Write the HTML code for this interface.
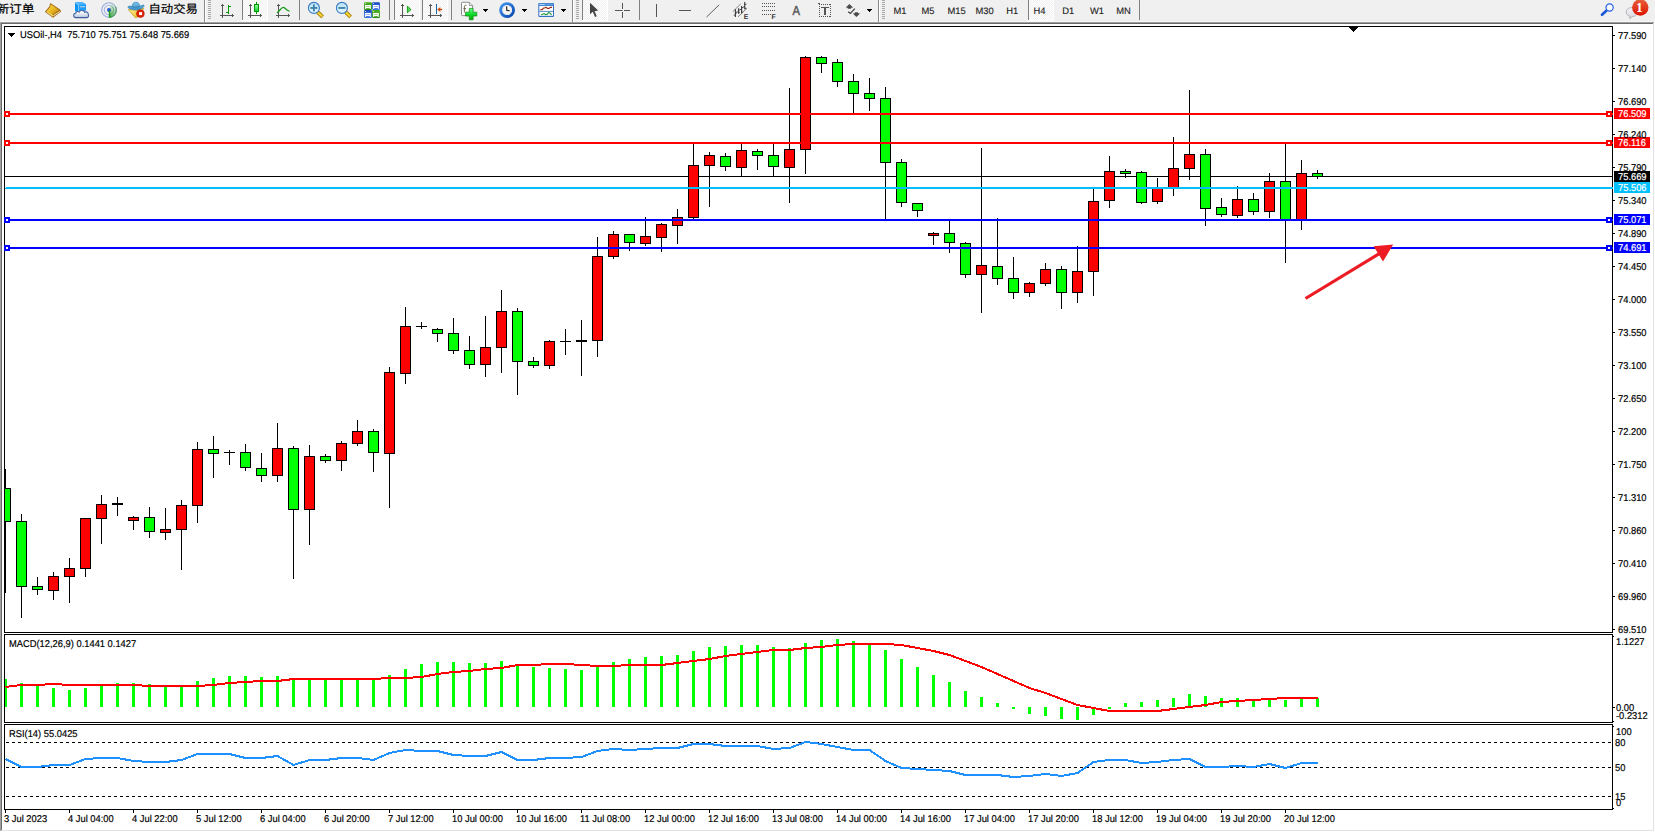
<!DOCTYPE html>
<html><head><meta charset="utf-8"><title>USOil-,H4</title>
<style>
html,body{margin:0;padding:0;background:#f0f0f0;overflow:hidden}
body{width:1655px;height:832px;position:relative;font-family:"Liberation Sans","Noto Sans CJK SC",sans-serif}
svg{position:absolute;left:0;top:0;display:block}
svg text{font-family:"Liberation Sans","Noto Sans CJK SC",sans-serif;white-space:pre}
</style></head><body>
<svg width="1655" height="832" viewBox="0 0 1655 832" shape-rendering="crispEdges">
<rect x="0" y="0" width="1655" height="832" fill="#f0f0f0"/>
<rect x="0" y="21" width="1654" height="1" fill="#f6f6f6"/>
<rect x="1654" y="21" width="1" height="811" fill="#ffffff"/>
<rect x="0" y="831" width="1655" height="1" fill="#ffffff"/>
<rect x="0" y="22" width="1654" height="1" fill="#a0a0a0"/>
<rect x="1" y="23" width="1652" height="1" fill="#696969"/>
<rect x="0" y="23" width="1" height="808" fill="#a0a0a0"/>
<rect x="1" y="24" width="1" height="806" fill="#696969"/>
<rect x="2" y="24" width="1651" height="806" fill="#ffffff"/>
<rect x="1653" y="23" width="1" height="808" fill="#e3e3e3"/>
<rect x="1" y="830" width="1653" height="1" fill="#e3e3e3"/>
<rect x="4" y="26" width="1609" height="1" fill="#000"/>
<rect x="4" y="632" width="1609" height="1" fill="#000"/>
<rect x="4" y="26" width="1" height="607" fill="#000"/>
<rect x="1612" y="26" width="1" height="607" fill="#000"/>
<rect x="4" y="634" width="1609" height="1" fill="#000"/>
<rect x="4" y="722" width="1609" height="1" fill="#000"/>
<rect x="4" y="634" width="1" height="89" fill="#000"/>
<rect x="1612" y="634" width="1" height="89" fill="#000"/>
<rect x="4" y="724" width="1609" height="1" fill="#000"/>
<rect x="4" y="809" width="1609" height="1" fill="#000"/>
<rect x="4" y="724" width="1" height="86" fill="#000"/>
<rect x="1612" y="724" width="1" height="86" fill="#000"/>
<rect x="1349" y="27" width="9" height="1" fill="#000"/>
<rect x="1350" y="28" width="7" height="1" fill="#000"/>
<rect x="1351" y="29" width="5" height="1" fill="#000"/>
<rect x="1352" y="30" width="3" height="1" fill="#000"/>
<rect x="1353" y="31" width="1" height="1" fill="#000"/>
<rect x="8" y="33" width="7" height="1" fill="#000"/>
<rect x="9" y="34" width="5" height="1" fill="#000"/>
<rect x="10" y="35" width="3" height="1" fill="#000"/>
<rect x="11" y="36" width="1" height="1" fill="#000"/>
<rect x="5" y="176" width="1607" height="1" fill="#000"/>
<rect x="5" y="469" width="1" height="124" fill="#000"/>
<rect x="5" y="488" width="6" height="34" fill="#000"/>
<rect x="5" y="489" width="5" height="32" fill="#00ff00"/>
<rect x="21" y="514" width="1" height="104" fill="#000"/>
<rect x="16" y="521" width="11" height="66" fill="#000"/>
<rect x="17" y="522" width="9" height="64" fill="#00ff00"/>
<rect x="37" y="577" width="1" height="18" fill="#000"/>
<rect x="32" y="586" width="11" height="4" fill="#000"/>
<rect x="33" y="587" width="9" height="2" fill="#00ff00"/>
<rect x="53" y="572" width="1" height="28" fill="#000"/>
<rect x="48" y="576" width="11" height="15" fill="#000"/>
<rect x="49" y="577" width="9" height="13" fill="#ff0000"/>
<rect x="69" y="558" width="1" height="45" fill="#000"/>
<rect x="64" y="568" width="11" height="9" fill="#000"/>
<rect x="65" y="569" width="9" height="7" fill="#ff0000"/>
<rect x="85" y="518" width="1" height="59" fill="#000"/>
<rect x="80" y="518" width="11" height="51" fill="#000"/>
<rect x="81" y="519" width="9" height="49" fill="#ff0000"/>
<rect x="101" y="495" width="1" height="49" fill="#000"/>
<rect x="96" y="504" width="11" height="15" fill="#000"/>
<rect x="97" y="505" width="9" height="13" fill="#ff0000"/>
<rect x="117" y="497" width="1" height="19" fill="#000"/>
<rect x="112" y="503" width="11" height="2" fill="#000"/>
<rect x="133" y="516" width="1" height="14" fill="#000"/>
<rect x="128" y="517" width="11" height="4" fill="#000"/>
<rect x="129" y="518" width="9" height="2" fill="#ff0000"/>
<rect x="149" y="507" width="1" height="31" fill="#000"/>
<rect x="144" y="517" width="11" height="15" fill="#000"/>
<rect x="145" y="518" width="9" height="13" fill="#00ff00"/>
<rect x="165" y="508" width="1" height="32" fill="#000"/>
<rect x="160" y="529" width="11" height="4" fill="#000"/>
<rect x="161" y="530" width="9" height="2" fill="#ff0000"/>
<rect x="181" y="500" width="1" height="70" fill="#000"/>
<rect x="176" y="505" width="11" height="25" fill="#000"/>
<rect x="177" y="506" width="9" height="23" fill="#ff0000"/>
<rect x="197" y="442" width="1" height="81" fill="#000"/>
<rect x="192" y="449" width="11" height="57" fill="#000"/>
<rect x="193" y="450" width="9" height="55" fill="#ff0000"/>
<rect x="213" y="436" width="1" height="42" fill="#000"/>
<rect x="208" y="449" width="11" height="5" fill="#000"/>
<rect x="209" y="450" width="9" height="3" fill="#00ff00"/>
<rect x="229" y="450" width="1" height="15" fill="#000"/>
<rect x="224" y="452" width="11" height="1" fill="#000"/>
<rect x="245" y="444" width="1" height="27" fill="#000"/>
<rect x="240" y="452" width="11" height="16" fill="#000"/>
<rect x="241" y="453" width="9" height="14" fill="#00ff00"/>
<rect x="261" y="453" width="1" height="29" fill="#000"/>
<rect x="256" y="468" width="11" height="8" fill="#000"/>
<rect x="257" y="469" width="9" height="6" fill="#00ff00"/>
<rect x="277" y="423" width="1" height="59" fill="#000"/>
<rect x="272" y="448" width="11" height="28" fill="#000"/>
<rect x="273" y="449" width="9" height="26" fill="#ff0000"/>
<rect x="293" y="446" width="1" height="133" fill="#000"/>
<rect x="288" y="448" width="11" height="62" fill="#000"/>
<rect x="289" y="449" width="9" height="60" fill="#00ff00"/>
<rect x="309" y="445" width="1" height="100" fill="#000"/>
<rect x="304" y="456" width="11" height="54" fill="#000"/>
<rect x="305" y="457" width="9" height="52" fill="#ff0000"/>
<rect x="325" y="454" width="1" height="9" fill="#000"/>
<rect x="320" y="456" width="11" height="5" fill="#000"/>
<rect x="321" y="457" width="9" height="3" fill="#00ff00"/>
<rect x="341" y="441" width="1" height="30" fill="#000"/>
<rect x="336" y="443" width="11" height="18" fill="#000"/>
<rect x="337" y="444" width="9" height="16" fill="#ff0000"/>
<rect x="357" y="420" width="1" height="26" fill="#000"/>
<rect x="352" y="431" width="11" height="13" fill="#000"/>
<rect x="353" y="432" width="9" height="11" fill="#ff0000"/>
<rect x="373" y="429" width="1" height="43" fill="#000"/>
<rect x="368" y="431" width="11" height="22" fill="#000"/>
<rect x="369" y="432" width="9" height="20" fill="#00ff00"/>
<rect x="389" y="367" width="1" height="141" fill="#000"/>
<rect x="384" y="372" width="11" height="82" fill="#000"/>
<rect x="385" y="373" width="9" height="80" fill="#ff0000"/>
<rect x="405" y="307" width="1" height="77" fill="#000"/>
<rect x="400" y="326" width="11" height="48" fill="#000"/>
<rect x="401" y="327" width="9" height="46" fill="#ff0000"/>
<rect x="421" y="322" width="1" height="7" fill="#000"/>
<rect x="416" y="326" width="11" height="1" fill="#000"/>
<rect x="437" y="328" width="1" height="14" fill="#000"/>
<rect x="432" y="329" width="11" height="5" fill="#000"/>
<rect x="433" y="330" width="9" height="3" fill="#00ff00"/>
<rect x="453" y="318" width="1" height="36" fill="#000"/>
<rect x="448" y="333" width="11" height="18" fill="#000"/>
<rect x="449" y="334" width="9" height="16" fill="#00ff00"/>
<rect x="469" y="336" width="1" height="33" fill="#000"/>
<rect x="464" y="350" width="11" height="15" fill="#000"/>
<rect x="465" y="351" width="9" height="13" fill="#00ff00"/>
<rect x="485" y="316" width="1" height="61" fill="#000"/>
<rect x="480" y="347" width="11" height="18" fill="#000"/>
<rect x="481" y="348" width="9" height="16" fill="#ff0000"/>
<rect x="501" y="290" width="1" height="83" fill="#000"/>
<rect x="496" y="311" width="11" height="37" fill="#000"/>
<rect x="497" y="312" width="9" height="35" fill="#ff0000"/>
<rect x="517" y="308" width="1" height="87" fill="#000"/>
<rect x="512" y="311" width="11" height="51" fill="#000"/>
<rect x="513" y="312" width="9" height="49" fill="#00ff00"/>
<rect x="533" y="357" width="1" height="11" fill="#000"/>
<rect x="528" y="361" width="11" height="5" fill="#000"/>
<rect x="529" y="362" width="9" height="3" fill="#00ff00"/>
<rect x="549" y="340" width="1" height="29" fill="#000"/>
<rect x="544" y="341" width="11" height="25" fill="#000"/>
<rect x="545" y="342" width="9" height="23" fill="#ff0000"/>
<rect x="565" y="329" width="1" height="26" fill="#000"/>
<rect x="560" y="341" width="11" height="1" fill="#000"/>
<rect x="581" y="320" width="1" height="56" fill="#000"/>
<rect x="576" y="340" width="11" height="2" fill="#000"/>
<rect x="597" y="237" width="1" height="120" fill="#000"/>
<rect x="592" y="256" width="11" height="85" fill="#000"/>
<rect x="593" y="257" width="9" height="83" fill="#ff0000"/>
<rect x="613" y="231" width="1" height="28" fill="#000"/>
<rect x="608" y="234" width="11" height="23" fill="#000"/>
<rect x="609" y="235" width="9" height="21" fill="#ff0000"/>
<rect x="629" y="234" width="1" height="17" fill="#000"/>
<rect x="624" y="234" width="11" height="9" fill="#000"/>
<rect x="625" y="235" width="9" height="7" fill="#00ff00"/>
<rect x="645" y="217" width="1" height="29" fill="#000"/>
<rect x="640" y="236" width="11" height="8" fill="#000"/>
<rect x="641" y="237" width="9" height="6" fill="#ff0000"/>
<rect x="661" y="223" width="1" height="29" fill="#000"/>
<rect x="656" y="224" width="11" height="14" fill="#000"/>
<rect x="657" y="225" width="9" height="12" fill="#ff0000"/>
<rect x="677" y="209" width="1" height="35" fill="#000"/>
<rect x="672" y="217" width="11" height="9" fill="#000"/>
<rect x="673" y="218" width="9" height="7" fill="#ff0000"/>
<rect x="693" y="144" width="1" height="75" fill="#000"/>
<rect x="688" y="165" width="11" height="53" fill="#000"/>
<rect x="689" y="166" width="9" height="51" fill="#ff0000"/>
<rect x="709" y="152" width="1" height="55" fill="#000"/>
<rect x="704" y="155" width="11" height="11" fill="#000"/>
<rect x="705" y="156" width="9" height="9" fill="#ff0000"/>
<rect x="725" y="153" width="1" height="18" fill="#000"/>
<rect x="720" y="156" width="11" height="11" fill="#000"/>
<rect x="721" y="157" width="9" height="9" fill="#00ff00"/>
<rect x="741" y="144" width="1" height="32" fill="#000"/>
<rect x="736" y="150" width="11" height="18" fill="#000"/>
<rect x="737" y="151" width="9" height="16" fill="#ff0000"/>
<rect x="757" y="149" width="1" height="21" fill="#000"/>
<rect x="752" y="151" width="11" height="5" fill="#000"/>
<rect x="753" y="152" width="9" height="3" fill="#00ff00"/>
<rect x="773" y="144" width="1" height="32" fill="#000"/>
<rect x="768" y="155" width="11" height="12" fill="#000"/>
<rect x="769" y="156" width="9" height="10" fill="#00ff00"/>
<rect x="789" y="88" width="1" height="115" fill="#000"/>
<rect x="784" y="149" width="11" height="19" fill="#000"/>
<rect x="785" y="150" width="9" height="17" fill="#ff0000"/>
<rect x="805" y="56" width="1" height="118" fill="#000"/>
<rect x="800" y="57" width="11" height="93" fill="#000"/>
<rect x="801" y="58" width="9" height="91" fill="#ff0000"/>
<rect x="821" y="56" width="1" height="17" fill="#000"/>
<rect x="816" y="57" width="11" height="7" fill="#000"/>
<rect x="817" y="58" width="9" height="5" fill="#00ff00"/>
<rect x="837" y="59" width="1" height="28" fill="#000"/>
<rect x="832" y="62" width="11" height="20" fill="#000"/>
<rect x="833" y="63" width="9" height="18" fill="#00ff00"/>
<rect x="853" y="74" width="1" height="39" fill="#000"/>
<rect x="848" y="81" width="11" height="13" fill="#000"/>
<rect x="849" y="82" width="9" height="11" fill="#00ff00"/>
<rect x="869" y="78" width="1" height="33" fill="#000"/>
<rect x="864" y="93" width="11" height="6" fill="#000"/>
<rect x="865" y="94" width="9" height="4" fill="#00ff00"/>
<rect x="885" y="87" width="1" height="132" fill="#000"/>
<rect x="880" y="98" width="11" height="65" fill="#000"/>
<rect x="881" y="99" width="9" height="63" fill="#00ff00"/>
<rect x="901" y="159" width="1" height="48" fill="#000"/>
<rect x="896" y="162" width="11" height="41" fill="#000"/>
<rect x="897" y="163" width="9" height="39" fill="#00ff00"/>
<rect x="917" y="203" width="1" height="14" fill="#000"/>
<rect x="912" y="203" width="11" height="8" fill="#000"/>
<rect x="913" y="204" width="9" height="6" fill="#00ff00"/>
<rect x="933" y="232" width="1" height="13" fill="#000"/>
<rect x="928" y="233" width="11" height="3" fill="#000"/>
<rect x="929" y="234" width="9" height="1" fill="#ff0000"/>
<rect x="949" y="221" width="1" height="32" fill="#000"/>
<rect x="944" y="233" width="11" height="10" fill="#000"/>
<rect x="945" y="234" width="9" height="8" fill="#00ff00"/>
<rect x="965" y="242" width="1" height="36" fill="#000"/>
<rect x="960" y="243" width="11" height="32" fill="#000"/>
<rect x="961" y="244" width="9" height="30" fill="#00ff00"/>
<rect x="981" y="148" width="1" height="165" fill="#000"/>
<rect x="976" y="265" width="11" height="10" fill="#000"/>
<rect x="977" y="266" width="9" height="8" fill="#ff0000"/>
<rect x="997" y="218" width="1" height="67" fill="#000"/>
<rect x="992" y="266" width="11" height="13" fill="#000"/>
<rect x="993" y="267" width="9" height="11" fill="#00ff00"/>
<rect x="1013" y="257" width="1" height="42" fill="#000"/>
<rect x="1008" y="278" width="11" height="15" fill="#000"/>
<rect x="1009" y="279" width="9" height="13" fill="#00ff00"/>
<rect x="1029" y="282" width="1" height="15" fill="#000"/>
<rect x="1024" y="283" width="11" height="10" fill="#000"/>
<rect x="1025" y="284" width="9" height="8" fill="#ff0000"/>
<rect x="1045" y="263" width="1" height="23" fill="#000"/>
<rect x="1040" y="269" width="11" height="15" fill="#000"/>
<rect x="1041" y="270" width="9" height="13" fill="#ff0000"/>
<rect x="1061" y="266" width="1" height="43" fill="#000"/>
<rect x="1056" y="269" width="11" height="24" fill="#000"/>
<rect x="1057" y="270" width="9" height="22" fill="#00ff00"/>
<rect x="1077" y="246" width="1" height="57" fill="#000"/>
<rect x="1072" y="271" width="11" height="22" fill="#000"/>
<rect x="1073" y="272" width="9" height="20" fill="#ff0000"/>
<rect x="1093" y="189" width="1" height="107" fill="#000"/>
<rect x="1088" y="201" width="11" height="71" fill="#000"/>
<rect x="1089" y="202" width="9" height="69" fill="#ff0000"/>
<rect x="1109" y="156" width="1" height="52" fill="#000"/>
<rect x="1104" y="171" width="11" height="30" fill="#000"/>
<rect x="1105" y="172" width="9" height="28" fill="#ff0000"/>
<rect x="1125" y="169" width="1" height="9" fill="#000"/>
<rect x="1120" y="171" width="11" height="3" fill="#000"/>
<rect x="1121" y="172" width="9" height="1" fill="#00ff00"/>
<rect x="1141" y="171" width="1" height="33" fill="#000"/>
<rect x="1136" y="172" width="11" height="31" fill="#000"/>
<rect x="1137" y="173" width="9" height="29" fill="#00ff00"/>
<rect x="1157" y="178" width="1" height="26" fill="#000"/>
<rect x="1152" y="188" width="11" height="14" fill="#000"/>
<rect x="1153" y="189" width="9" height="12" fill="#ff0000"/>
<rect x="1173" y="137" width="1" height="59" fill="#000"/>
<rect x="1168" y="168" width="11" height="20" fill="#000"/>
<rect x="1169" y="169" width="9" height="18" fill="#ff0000"/>
<rect x="1189" y="90" width="1" height="90" fill="#000"/>
<rect x="1184" y="154" width="11" height="15" fill="#000"/>
<rect x="1185" y="155" width="9" height="13" fill="#ff0000"/>
<rect x="1205" y="149" width="1" height="77" fill="#000"/>
<rect x="1200" y="154" width="11" height="55" fill="#000"/>
<rect x="1201" y="155" width="9" height="53" fill="#00ff00"/>
<rect x="1221" y="198" width="1" height="19" fill="#000"/>
<rect x="1216" y="207" width="11" height="8" fill="#000"/>
<rect x="1217" y="208" width="9" height="6" fill="#00ff00"/>
<rect x="1237" y="186" width="1" height="32" fill="#000"/>
<rect x="1232" y="199" width="11" height="17" fill="#000"/>
<rect x="1233" y="200" width="9" height="15" fill="#ff0000"/>
<rect x="1253" y="193" width="1" height="22" fill="#000"/>
<rect x="1248" y="199" width="11" height="13" fill="#000"/>
<rect x="1249" y="200" width="9" height="11" fill="#00ff00"/>
<rect x="1269" y="173" width="1" height="45" fill="#000"/>
<rect x="1264" y="181" width="11" height="31" fill="#000"/>
<rect x="1265" y="182" width="9" height="29" fill="#ff0000"/>
<rect x="1285" y="144" width="1" height="119" fill="#000"/>
<rect x="1280" y="181" width="11" height="39" fill="#000"/>
<rect x="1281" y="182" width="9" height="37" fill="#00ff00"/>
<rect x="1301" y="160" width="1" height="70" fill="#000"/>
<rect x="1296" y="173" width="11" height="47" fill="#000"/>
<rect x="1297" y="174" width="9" height="45" fill="#ff0000"/>
<rect x="1317" y="170" width="1" height="9" fill="#000"/>
<rect x="1312" y="173" width="11" height="4" fill="#000"/>
<rect x="1313" y="174" width="9" height="2" fill="#00ff00"/>
<rect x="4" y="113" width="1609" height="2" fill="#ff0000"/>
<rect x="4" y="111" width="6" height="6" fill="#ff0000"/>
<rect x="6" y="113" width="2" height="2" fill="#fff"/>
<rect x="1606" y="111" width="6" height="6" fill="#ff0000"/>
<rect x="1608" y="113" width="2" height="2" fill="#fff"/>
<rect x="4" y="142" width="1609" height="2" fill="#ff0000"/>
<rect x="4" y="140" width="6" height="6" fill="#ff0000"/>
<rect x="6" y="142" width="2" height="2" fill="#fff"/>
<rect x="1606" y="140" width="6" height="6" fill="#ff0000"/>
<rect x="1608" y="142" width="2" height="2" fill="#fff"/>
<rect x="6" y="187" width="1607" height="1" fill="#00bfff"/>
<rect x="5" y="188" width="1608" height="1" fill="#00bfff"/>
<rect x="4" y="219" width="1609" height="2" fill="#0000ff"/>
<rect x="4" y="217" width="6" height="6" fill="#0000ff"/>
<rect x="6" y="219" width="2" height="2" fill="#fff"/>
<rect x="1606" y="217" width="6" height="6" fill="#0000ff"/>
<rect x="1608" y="219" width="2" height="2" fill="#fff"/>
<rect x="4" y="247" width="1609" height="2" fill="#0000ff"/>
<rect x="4" y="245" width="6" height="6" fill="#0000ff"/>
<rect x="6" y="247" width="2" height="2" fill="#fff"/>
<rect x="1606" y="245" width="6" height="6" fill="#0000ff"/>
<rect x="1608" y="247" width="2" height="2" fill="#fff"/>
<g shape-rendering="geometricPrecision"><line x1="1305.5" y1="298.5" x2="1381" y2="252.6" stroke="#ed1c24" stroke-width="3.2"/><polygon points="1393.2,244.6 1373.6,246.3 1383,261.4" fill="#ed1c24"/></g>
<rect x="1614" y="108" width="36" height="11" fill="#ff0000"/>
<rect x="1614" y="137" width="36" height="11" fill="#ff0000"/>
<rect x="1614" y="171" width="36" height="11" fill="#000"/>
<rect x="1614" y="182" width="36" height="11" fill="#00bfff"/>
<rect x="1614" y="214" width="36" height="11" fill="#0000ff"/>
<rect x="1614" y="242" width="36" height="11" fill="#0000ff"/>
<rect x="1613" y="35" width="2" height="1" fill="#000"/>
<rect x="1613" y="68" width="2" height="1" fill="#000"/>
<rect x="1613" y="101" width="2" height="1" fill="#000"/>
<rect x="1613" y="134" width="2" height="1" fill="#000"/>
<rect x="1613" y="167" width="2" height="1" fill="#000"/>
<rect x="1613" y="200" width="2" height="1" fill="#000"/>
<rect x="1613" y="233" width="2" height="1" fill="#000"/>
<rect x="1613" y="266" width="2" height="1" fill="#000"/>
<rect x="1613" y="299" width="2" height="1" fill="#000"/>
<rect x="1613" y="332" width="2" height="1" fill="#000"/>
<rect x="1613" y="365" width="2" height="1" fill="#000"/>
<rect x="1613" y="398" width="2" height="1" fill="#000"/>
<rect x="1613" y="431" width="2" height="1" fill="#000"/>
<rect x="1613" y="464" width="2" height="1" fill="#000"/>
<rect x="1613" y="497" width="2" height="1" fill="#000"/>
<rect x="1613" y="530" width="2" height="1" fill="#000"/>
<rect x="1613" y="563" width="2" height="1" fill="#000"/>
<rect x="1613" y="596" width="2" height="1" fill="#000"/>
<rect x="1613" y="629" width="2" height="1" fill="#000"/>
<rect x="5" y="679" width="2" height="28" fill="#00ff00"/>
<rect x="20" y="683" width="3" height="24" fill="#00ff00"/>
<rect x="36" y="686" width="3" height="21" fill="#00ff00"/>
<rect x="52" y="688" width="3" height="19" fill="#00ff00"/>
<rect x="68" y="690" width="3" height="17" fill="#00ff00"/>
<rect x="84" y="688" width="3" height="19" fill="#00ff00"/>
<rect x="100" y="685" width="3" height="22" fill="#00ff00"/>
<rect x="116" y="683" width="3" height="24" fill="#00ff00"/>
<rect x="132" y="683" width="3" height="24" fill="#00ff00"/>
<rect x="148" y="684" width="3" height="23" fill="#00ff00"/>
<rect x="164" y="686" width="3" height="21" fill="#00ff00"/>
<rect x="180" y="686" width="3" height="21" fill="#00ff00"/>
<rect x="196" y="681" width="3" height="26" fill="#00ff00"/>
<rect x="212" y="678" width="3" height="29" fill="#00ff00"/>
<rect x="228" y="676" width="3" height="31" fill="#00ff00"/>
<rect x="244" y="676" width="3" height="31" fill="#00ff00"/>
<rect x="260" y="677" width="3" height="30" fill="#00ff00"/>
<rect x="276" y="676" width="3" height="31" fill="#00ff00"/>
<rect x="292" y="680" width="3" height="27" fill="#00ff00"/>
<rect x="308" y="680" width="3" height="27" fill="#00ff00"/>
<rect x="324" y="680" width="3" height="27" fill="#00ff00"/>
<rect x="340" y="680" width="3" height="27" fill="#00ff00"/>
<rect x="356" y="679" width="3" height="28" fill="#00ff00"/>
<rect x="372" y="679" width="3" height="28" fill="#00ff00"/>
<rect x="388" y="675" width="3" height="32" fill="#00ff00"/>
<rect x="404" y="669" width="3" height="38" fill="#00ff00"/>
<rect x="420" y="664" width="3" height="43" fill="#00ff00"/>
<rect x="436" y="662" width="3" height="45" fill="#00ff00"/>
<rect x="452" y="662" width="3" height="45" fill="#00ff00"/>
<rect x="468" y="663" width="3" height="44" fill="#00ff00"/>
<rect x="484" y="663" width="3" height="44" fill="#00ff00"/>
<rect x="500" y="661" width="3" height="46" fill="#00ff00"/>
<rect x="516" y="665" width="3" height="42" fill="#00ff00"/>
<rect x="532" y="667" width="3" height="40" fill="#00ff00"/>
<rect x="548" y="668" width="3" height="39" fill="#00ff00"/>
<rect x="564" y="669" width="3" height="38" fill="#00ff00"/>
<rect x="580" y="670" width="3" height="37" fill="#00ff00"/>
<rect x="596" y="666" width="3" height="41" fill="#00ff00"/>
<rect x="612" y="662" width="3" height="45" fill="#00ff00"/>
<rect x="628" y="659" width="3" height="48" fill="#00ff00"/>
<rect x="644" y="657" width="3" height="50" fill="#00ff00"/>
<rect x="660" y="656" width="3" height="51" fill="#00ff00"/>
<rect x="676" y="655" width="3" height="52" fill="#00ff00"/>
<rect x="692" y="651" width="3" height="56" fill="#00ff00"/>
<rect x="708" y="647" width="3" height="60" fill="#00ff00"/>
<rect x="724" y="646" width="3" height="61" fill="#00ff00"/>
<rect x="740" y="645" width="3" height="62" fill="#00ff00"/>
<rect x="756" y="645" width="3" height="62" fill="#00ff00"/>
<rect x="772" y="647" width="3" height="60" fill="#00ff00"/>
<rect x="788" y="648" width="3" height="59" fill="#00ff00"/>
<rect x="804" y="643" width="3" height="64" fill="#00ff00"/>
<rect x="820" y="640" width="3" height="67" fill="#00ff00"/>
<rect x="836" y="639" width="3" height="68" fill="#00ff00"/>
<rect x="852" y="641" width="3" height="66" fill="#00ff00"/>
<rect x="868" y="645" width="3" height="62" fill="#00ff00"/>
<rect x="884" y="650" width="3" height="57" fill="#00ff00"/>
<rect x="900" y="659" width="3" height="48" fill="#00ff00"/>
<rect x="916" y="667" width="3" height="40" fill="#00ff00"/>
<rect x="932" y="675" width="3" height="32" fill="#00ff00"/>
<rect x="948" y="682" width="3" height="25" fill="#00ff00"/>
<rect x="964" y="691" width="3" height="16" fill="#00ff00"/>
<rect x="980" y="697" width="3" height="10" fill="#00ff00"/>
<rect x="996" y="703" width="3" height="4" fill="#00ff00"/>
<rect x="1012" y="707" width="3" height="2" fill="#00ff00"/>
<rect x="1028" y="707" width="3" height="7" fill="#00ff00"/>
<rect x="1044" y="707" width="3" height="9" fill="#00ff00"/>
<rect x="1060" y="707" width="3" height="12" fill="#00ff00"/>
<rect x="1076" y="707" width="3" height="13" fill="#00ff00"/>
<rect x="1092" y="707" width="3" height="8" fill="#00ff00"/>
<rect x="1108" y="707" width="3" height="2" fill="#00ff00"/>
<rect x="1124" y="703" width="3" height="4" fill="#00ff00"/>
<rect x="1140" y="702" width="3" height="5" fill="#00ff00"/>
<rect x="1156" y="700" width="3" height="7" fill="#00ff00"/>
<rect x="1172" y="698" width="3" height="9" fill="#00ff00"/>
<rect x="1188" y="694" width="3" height="13" fill="#00ff00"/>
<rect x="1204" y="696" width="3" height="11" fill="#00ff00"/>
<rect x="1220" y="698" width="3" height="9" fill="#00ff00"/>
<rect x="1236" y="698" width="3" height="9" fill="#00ff00"/>
<rect x="1252" y="699" width="3" height="8" fill="#00ff00"/>
<rect x="1268" y="698" width="3" height="9" fill="#00ff00"/>
<rect x="1284" y="700" width="3" height="7" fill="#00ff00"/>
<rect x="1300" y="698" width="3" height="9" fill="#00ff00"/>
<rect x="1316" y="698" width="3" height="9" fill="#00ff00"/>
<polyline points="5.5,687 21.5,685 37.5,685 53.5,684 69.5,685 85.5,685 101.5,685 117.5,685 133.5,685 149.5,686 165.5,686 181.5,686 197.5,686 213.5,685 229.5,683 245.5,682 261.5,681 277.5,681 293.5,679 309.5,679 325.5,679 341.5,679 357.5,679 373.5,679 389.5,678 405.5,678 421.5,677 437.5,674 453.5,672 469.5,671 485.5,669 501.5,668 517.5,665 533.5,665 549.5,664 565.5,664 581.5,665 597.5,666 613.5,666 629.5,665 645.5,665 661.5,665 677.5,663 693.5,661 709.5,659 725.5,656 741.5,654 757.5,652 773.5,650 789.5,650 805.5,648 821.5,647 837.5,645 853.5,644 869.5,644 885.5,644 901.5,645 917.5,648 933.5,651 949.5,655 965.5,661 981.5,667 997.5,674 1013.5,681 1029.5,688 1045.5,693 1061.5,699 1077.5,705 1093.5,708 1109.5,711 1125.5,711 1141.5,711 1157.5,711 1173.5,709 1189.5,707 1205.5,705 1221.5,702 1237.5,701 1253.5,700 1269.5,699 1285.5,698 1301.5,698 1317.5,698" fill="none" stroke="#ff0000" stroke-width="2" shape-rendering="crispEdges"/>
<rect x="1613" y="707" width="2" height="1" fill="#000"/>
<rect x="1613" y="636" width="1" height="1" fill="#000"/>
<rect x="1613" y="721" width="1" height="1" fill="#000"/>
<line x1="6" y1="742.5" x2="1611" y2="742.5" stroke="#000" stroke-width="1" stroke-dasharray="3 3"/>
<line x1="6" y1="767.5" x2="1611" y2="767.5" stroke="#000" stroke-width="1" stroke-dasharray="3 3"/>
<line x1="6" y1="796.5" x2="1611" y2="796.5" stroke="#000" stroke-width="1" stroke-dasharray="3 3"/>
<polyline points="5.5,759 21.5,767 37.5,767 53.5,765 69.5,765 85.5,759 101.5,758 117.5,758 133.5,761 149.5,762 165.5,762 181.5,760 197.5,754 213.5,754 229.5,754 245.5,758 261.5,758 277.5,756 293.5,765 309.5,760 325.5,760 341.5,758 357.5,758 373.5,760 389.5,753 405.5,750 421.5,751 437.5,751 453.5,755 469.5,756 485.5,756 501.5,752 517.5,760 533.5,760 549.5,758 565.5,758 581.5,757 597.5,751 613.5,749 629.5,750 645.5,749 661.5,748 677.5,748 693.5,744 709.5,744 725.5,746 741.5,746 757.5,746 773.5,749 789.5,748 805.5,742 821.5,744 837.5,747 853.5,750 869.5,750 885.5,761 901.5,768 917.5,769 933.5,770 949.5,771 965.5,775 981.5,775 997.5,775 1013.5,777 1029.5,776 1045.5,774 1061.5,776 1077.5,773 1093.5,762 1109.5,760 1125.5,760 1141.5,763 1157.5,762 1173.5,760 1189.5,759 1205.5,767 1221.5,767 1237.5,766 1253.5,767 1269.5,764 1285.5,768 1301.5,763 1317.5,763" fill="none" stroke="#1e90ff" stroke-width="2" shape-rendering="crispEdges"/>
<rect x="1613" y="726" width="1" height="1" fill="#000"/>
<rect x="1613" y="808" width="1" height="1" fill="#000"/>
<rect x="5" y="810" width="1" height="3" fill="#000"/>
<rect x="69" y="810" width="1" height="3" fill="#000"/>
<rect x="133" y="810" width="1" height="3" fill="#000"/>
<rect x="197" y="810" width="1" height="3" fill="#000"/>
<rect x="261" y="810" width="1" height="3" fill="#000"/>
<rect x="325" y="810" width="1" height="3" fill="#000"/>
<rect x="389" y="810" width="1" height="3" fill="#000"/>
<rect x="453" y="810" width="1" height="3" fill="#000"/>
<rect x="517" y="810" width="1" height="3" fill="#000"/>
<rect x="581" y="810" width="1" height="3" fill="#000"/>
<rect x="645" y="810" width="1" height="3" fill="#000"/>
<rect x="709" y="810" width="1" height="3" fill="#000"/>
<rect x="773" y="810" width="1" height="3" fill="#000"/>
<rect x="837" y="810" width="1" height="3" fill="#000"/>
<rect x="901" y="810" width="1" height="3" fill="#000"/>
<rect x="965" y="810" width="1" height="3" fill="#000"/>
<rect x="1029" y="810" width="1" height="3" fill="#000"/>
<rect x="1093" y="810" width="1" height="3" fill="#000"/>
<rect x="1157" y="810" width="1" height="3" fill="#000"/>
<rect x="1221" y="810" width="1" height="3" fill="#000"/>
<rect x="1285" y="810" width="1" height="3" fill="#000"/>
<g xml:space="preserve" text-rendering="geometricPrecision">
<text transform="translate(20 37.7) scale(0.9455 1)" fill="#000" stroke="#000" stroke-width="0.18" font-size="9.9">USOil-,H4  75.710 75.751 75.648 75.669</text>
<text transform="translate(9 647) scale(0.9455 1)" fill="#000" stroke="#000" stroke-width="0.18" font-size="9.9">MACD(12,26,9) 0.1441 0.1427</text>
<text transform="translate(9 737) scale(0.9455 1)" fill="#000" stroke="#000" stroke-width="0.18" font-size="9.9">RSI(14) 55.0425</text>
<text transform="translate(1618 39) scale(0.9455 1)" fill="#000" stroke="#000" stroke-width="0.18" font-size="9.9">77.590</text>
<text transform="translate(1618 72) scale(0.9455 1)" fill="#000" stroke="#000" stroke-width="0.18" font-size="9.9">77.140</text>
<text transform="translate(1618 105) scale(0.9455 1)" fill="#000" stroke="#000" stroke-width="0.18" font-size="9.9">76.690</text>
<text transform="translate(1618 138) scale(0.9455 1)" fill="#000" stroke="#000" stroke-width="0.18" font-size="9.9">76.240</text>
<text transform="translate(1618 171) scale(0.9455 1)" fill="#000" stroke="#000" stroke-width="0.18" font-size="9.9">75.790</text>
<text transform="translate(1618 204) scale(0.9455 1)" fill="#000" stroke="#000" stroke-width="0.18" font-size="9.9">75.340</text>
<text transform="translate(1618 237) scale(0.9455 1)" fill="#000" stroke="#000" stroke-width="0.18" font-size="9.9">74.890</text>
<text transform="translate(1618 270) scale(0.9455 1)" fill="#000" stroke="#000" stroke-width="0.18" font-size="9.9">74.450</text>
<text transform="translate(1618 303) scale(0.9455 1)" fill="#000" stroke="#000" stroke-width="0.18" font-size="9.9">74.000</text>
<text transform="translate(1618 336) scale(0.9455 1)" fill="#000" stroke="#000" stroke-width="0.18" font-size="9.9">73.550</text>
<text transform="translate(1618 369) scale(0.9455 1)" fill="#000" stroke="#000" stroke-width="0.18" font-size="9.9">73.100</text>
<text transform="translate(1618 402) scale(0.9455 1)" fill="#000" stroke="#000" stroke-width="0.18" font-size="9.9">72.650</text>
<text transform="translate(1618 435) scale(0.9455 1)" fill="#000" stroke="#000" stroke-width="0.18" font-size="9.9">72.200</text>
<text transform="translate(1618 468) scale(0.9455 1)" fill="#000" stroke="#000" stroke-width="0.18" font-size="9.9">71.750</text>
<text transform="translate(1618 501) scale(0.9455 1)" fill="#000" stroke="#000" stroke-width="0.18" font-size="9.9">71.310</text>
<text transform="translate(1618 534) scale(0.9455 1)" fill="#000" stroke="#000" stroke-width="0.18" font-size="9.9">70.860</text>
<text transform="translate(1618 567) scale(0.9455 1)" fill="#000" stroke="#000" stroke-width="0.18" font-size="9.9">70.410</text>
<text transform="translate(1618 600) scale(0.9455 1)" fill="#000" stroke="#000" stroke-width="0.18" font-size="9.9">69.960</text>
<text transform="translate(1618 633) scale(0.9455 1)" fill="#000" stroke="#000" stroke-width="0.18" font-size="9.9">69.510</text>
<text transform="translate(1618 117) scale(0.9455 1)" fill="#fff" stroke="#fff" stroke-width="0.18" font-size="9.9">76.509</text>
<text transform="translate(1618 146) scale(0.9455 1)" fill="#fff" stroke="#fff" stroke-width="0.18" font-size="9.9">76.116</text>
<text transform="translate(1618 180) scale(0.9455 1)" fill="#fff" stroke="#fff" stroke-width="0.18" font-size="9.9">75.669</text>
<text transform="translate(1618 191) scale(0.9455 1)" fill="#fff" stroke="#fff" stroke-width="0.18" font-size="9.9">75.506</text>
<text transform="translate(1618 223) scale(0.9455 1)" fill="#fff" stroke="#fff" stroke-width="0.18" font-size="9.9">75.071</text>
<text transform="translate(1618 251) scale(0.9455 1)" fill="#fff" stroke="#fff" stroke-width="0.18" font-size="9.9">74.691</text>
<text transform="translate(1616 645) scale(0.9455 1)" fill="#000" stroke="#000" stroke-width="0.18" font-size="9.9">1.1227</text>
<text transform="translate(1616 711) scale(0.9455 1)" fill="#000" stroke="#000" stroke-width="0.18" font-size="9.9">0.00</text>
<text transform="translate(1616 719) scale(0.9455 1)" fill="#000" stroke="#000" stroke-width="0.18" font-size="9.9">-0.2312</text>
<text transform="translate(1616 735) scale(0.9455 1)" fill="#000" stroke="#000" stroke-width="0.18" font-size="9.9">100</text>
<text transform="translate(1615 746) scale(0.9455 1)" fill="#000" stroke="#000" stroke-width="0.18" font-size="9.9">80</text>
<text transform="translate(1615 771) scale(0.9455 1)" fill="#000" stroke="#000" stroke-width="0.18" font-size="9.9">50</text>
<text transform="translate(1615 800) scale(0.9455 1)" fill="#000" stroke="#000" stroke-width="0.18" font-size="9.9">15</text>
<text transform="translate(1616 806) scale(0.9455 1)" fill="#000" stroke="#000" stroke-width="0.18" font-size="9.9">0</text>
<text transform="translate(4 822) scale(0.9455 1)" fill="#000" stroke="#000" stroke-width="0.18" font-size="9.9">3 Jul 2023</text>
<text transform="translate(68 822) scale(0.9455 1)" fill="#000" stroke="#000" stroke-width="0.18" font-size="9.9">4 Jul 04:00</text>
<text transform="translate(132 822) scale(0.9455 1)" fill="#000" stroke="#000" stroke-width="0.18" font-size="9.9">4 Jul 22:00</text>
<text transform="translate(196 822) scale(0.9455 1)" fill="#000" stroke="#000" stroke-width="0.18" font-size="9.9">5 Jul 12:00</text>
<text transform="translate(260 822) scale(0.9455 1)" fill="#000" stroke="#000" stroke-width="0.18" font-size="9.9">6 Jul 04:00</text>
<text transform="translate(324 822) scale(0.9455 1)" fill="#000" stroke="#000" stroke-width="0.18" font-size="9.9">6 Jul 20:00</text>
<text transform="translate(388 822) scale(0.9455 1)" fill="#000" stroke="#000" stroke-width="0.18" font-size="9.9">7 Jul 12:00</text>
<text transform="translate(452 822) scale(0.9455 1)" fill="#000" stroke="#000" stroke-width="0.18" font-size="9.9">10 Jul 00:00</text>
<text transform="translate(516 822) scale(0.9455 1)" fill="#000" stroke="#000" stroke-width="0.18" font-size="9.9">10 Jul 16:00</text>
<text transform="translate(580 822) scale(0.9455 1)" fill="#000" stroke="#000" stroke-width="0.18" font-size="9.9">11 Jul 08:00</text>
<text transform="translate(644 822) scale(0.9455 1)" fill="#000" stroke="#000" stroke-width="0.18" font-size="9.9">12 Jul 00:00</text>
<text transform="translate(708 822) scale(0.9455 1)" fill="#000" stroke="#000" stroke-width="0.18" font-size="9.9">12 Jul 16:00</text>
<text transform="translate(772 822) scale(0.9455 1)" fill="#000" stroke="#000" stroke-width="0.18" font-size="9.9">13 Jul 08:00</text>
<text transform="translate(836 822) scale(0.9455 1)" fill="#000" stroke="#000" stroke-width="0.18" font-size="9.9">14 Jul 00:00</text>
<text transform="translate(900 822) scale(0.9455 1)" fill="#000" stroke="#000" stroke-width="0.18" font-size="9.9">14 Jul 16:00</text>
<text transform="translate(964 822) scale(0.9455 1)" fill="#000" stroke="#000" stroke-width="0.18" font-size="9.9">17 Jul 04:00</text>
<text transform="translate(1028 822) scale(0.9455 1)" fill="#000" stroke="#000" stroke-width="0.18" font-size="9.9">17 Jul 20:00</text>
<text transform="translate(1092 822) scale(0.9455 1)" fill="#000" stroke="#000" stroke-width="0.18" font-size="9.9">18 Jul 12:00</text>
<text transform="translate(1156 822) scale(0.9455 1)" fill="#000" stroke="#000" stroke-width="0.18" font-size="9.9">19 Jul 04:00</text>
<text transform="translate(1220 822) scale(0.9455 1)" fill="#000" stroke="#000" stroke-width="0.18" font-size="9.9">19 Jul 20:00</text>
<text transform="translate(1284 822) scale(0.9455 1)" fill="#000" stroke="#000" stroke-width="0.18" font-size="9.9">20 Jul 12:00</text>
</g>
<defs>
<pattern id="chk" width="2" height="2" patternUnits="userSpaceOnUse"><rect width="2" height="2" fill="#f0f0f0"/><rect width="1" height="1" fill="#fff"/><rect x="1" y="1" width="1" height="1" fill="#fff"/></pattern>
<linearGradient id="gold" x1="0" y1="0" x2="1" y2="1"><stop offset="0" stop-color="#f9e04a"/><stop offset="0.5" stop-color="#e8b820"/><stop offset="1" stop-color="#b87a10"/></linearGradient>
<linearGradient id="bluebox" x1="0" y1="0" x2="0" y2="1"><stop offset="0" stop-color="#49b4ff"/><stop offset="1" stop-color="#0a84f0"/></linearGradient>
<linearGradient id="cloud" x1="0" y1="0" x2="0" y2="1"><stop offset="0.2" stop-color="#ffffff"/><stop offset="1" stop-color="#b4c2dc"/></linearGradient>
<linearGradient id="hat" x1="0" y1="0" x2="0" y2="1"><stop offset="0" stop-color="#7cc4ea"/><stop offset="1" stop-color="#3a8cc8"/></linearGradient>
<linearGradient id="face" x1="0" y1="0" x2="1" y2="1"><stop offset="0" stop-color="#fff6a0"/><stop offset="1" stop-color="#e8b010"/></linearGradient>
<linearGradient id="redb" x1="0" y1="0" x2="0" y2="1"><stop offset="0" stop-color="#e8603c"/><stop offset="1" stop-color="#dc1400"/></linearGradient>
<linearGradient id="cgreen" x1="0" y1="0" x2="0" y2="1"><stop offset="0" stop-color="#8cff9c"/><stop offset="1" stop-color="#18d038"/></linearGradient>
<linearGradient id="plus" x1="0" y1="0" x2="0" y2="1"><stop offset="0" stop-color="#70ff90"/><stop offset="0.5" stop-color="#10e030"/><stop offset="1" stop-color="#00a800"/></linearGradient>
<linearGradient id="clock" x1="0" y1="0" x2="1" y2="1"><stop offset="0" stop-color="#4a9cf4"/><stop offset="1" stop-color="#0040a8"/></linearGradient>
<linearGradient id="lens" x1="0" y1="0" x2="0" y2="1"><stop offset="0" stop-color="#b8e0f8"/><stop offset="1" stop-color="#e8f8ff"/></linearGradient>
<linearGradient id="sig" x1="0" y1="0" x2="1" y2="1"><stop offset="0" stop-color="#3a6ae0"/><stop offset="1" stop-color="#20b030"/></linearGradient>
<linearGradient id="tg" x1="0" y1="0" x2="0" y2="1"><stop offset="0" stop-color="#48b020"/><stop offset="1" stop-color="#2a8a10"/></linearGradient>
<linearGradient id="tb" x1="0" y1="0" x2="0" y2="1"><stop offset="0" stop-color="#1848c0"/><stop offset="1" stop-color="#3a78e8"/></linearGradient>
<linearGradient id="bub" x1="0" y1="0" x2="0" y2="1"><stop offset="0" stop-color="#f4f4f8"/><stop offset="1" stop-color="#d4d4e0"/></linearGradient>
</defs>
<g shape-rendering="crispEdges">
<rect x="242" y="0" width="1" height="20" fill="#808080"/>
<rect x="243" y="0" width="24" height="20" fill="url(#chk)"/>
<rect x="267" y="0" width="1" height="21" fill="#fff"/>
<rect x="242" y="20" width="26" height="1" fill="#fff"/>
<rect x="394" y="0" width="1" height="20" fill="#808080"/>
<rect x="395" y="0" width="24" height="20" fill="url(#chk)"/>
<rect x="419" y="0" width="1" height="21" fill="#fff"/>
<rect x="394" y="20" width="26" height="1" fill="#fff"/>
<rect x="422" y="0" width="1" height="20" fill="#808080"/>
<rect x="423" y="0" width="24" height="20" fill="url(#chk)"/>
<rect x="447" y="0" width="1" height="21" fill="#fff"/>
<rect x="422" y="20" width="26" height="1" fill="#fff"/>
<rect x="582" y="0" width="1" height="20" fill="#808080"/>
<rect x="583" y="0" width="24" height="20" fill="url(#chk)"/>
<rect x="607" y="0" width="1" height="21" fill="#fff"/>
<rect x="582" y="20" width="26" height="1" fill="#fff"/>
<rect x="1028" y="0" width="1" height="20" fill="#808080"/>
<rect x="1029" y="0" width="24" height="20" fill="url(#chk)"/>
<rect x="1053" y="0" width="1" height="21" fill="#fff"/>
<rect x="1028" y="20" width="26" height="1" fill="#fff"/>
<rect x="299" y="0" width="1" height="20" fill="#808080"/>
<rect x="389" y="0" width="1" height="20" fill="#808080"/>
<rect x="451" y="0" width="1" height="20" fill="#808080"/>
<rect x="639" y="0" width="1" height="20" fill="#808080"/>
<rect x="1139" y="0" width="1" height="20" fill="#808080"/>
<rect x="204" y="0" width="1" height="22" fill="#8a8a8a"/>
<rect x="205" y="0" width="1" height="22" fill="#fff"/>
<rect x="208" y="0" width="3" height="1" fill="#a8a8a8"/>
<rect x="208" y="2" width="3" height="1" fill="#a8a8a8"/>
<rect x="208" y="4" width="3" height="1" fill="#a8a8a8"/>
<rect x="208" y="6" width="3" height="1" fill="#a8a8a8"/>
<rect x="208" y="8" width="3" height="1" fill="#a8a8a8"/>
<rect x="208" y="10" width="3" height="1" fill="#a8a8a8"/>
<rect x="208" y="12" width="3" height="1" fill="#a8a8a8"/>
<rect x="208" y="14" width="3" height="1" fill="#a8a8a8"/>
<rect x="208" y="16" width="3" height="1" fill="#a8a8a8"/>
<rect x="208" y="18" width="3" height="1" fill="#a8a8a8"/>
<rect x="572" y="0" width="1" height="22" fill="#8a8a8a"/>
<rect x="573" y="0" width="1" height="22" fill="#fff"/>
<rect x="576" y="0" width="3" height="1" fill="#a8a8a8"/>
<rect x="576" y="2" width="3" height="1" fill="#a8a8a8"/>
<rect x="576" y="4" width="3" height="1" fill="#a8a8a8"/>
<rect x="576" y="6" width="3" height="1" fill="#a8a8a8"/>
<rect x="576" y="8" width="3" height="1" fill="#a8a8a8"/>
<rect x="576" y="10" width="3" height="1" fill="#a8a8a8"/>
<rect x="576" y="12" width="3" height="1" fill="#a8a8a8"/>
<rect x="576" y="14" width="3" height="1" fill="#a8a8a8"/>
<rect x="576" y="16" width="3" height="1" fill="#a8a8a8"/>
<rect x="576" y="18" width="3" height="1" fill="#a8a8a8"/>
<rect x="878" y="0" width="1" height="22" fill="#8a8a8a"/>
<rect x="879" y="0" width="1" height="22" fill="#fff"/>
<rect x="882" y="0" width="3" height="1" fill="#a8a8a8"/>
<rect x="882" y="2" width="3" height="1" fill="#a8a8a8"/>
<rect x="882" y="4" width="3" height="1" fill="#a8a8a8"/>
<rect x="882" y="6" width="3" height="1" fill="#a8a8a8"/>
<rect x="882" y="8" width="3" height="1" fill="#a8a8a8"/>
<rect x="882" y="10" width="3" height="1" fill="#a8a8a8"/>
<rect x="882" y="12" width="3" height="1" fill="#a8a8a8"/>
<rect x="882" y="14" width="3" height="1" fill="#a8a8a8"/>
<rect x="882" y="16" width="3" height="1" fill="#a8a8a8"/>
<rect x="882" y="18" width="3" height="1" fill="#a8a8a8"/>
<rect x="222" y="4" width="1" height="14" fill="#555"/>
<rect x="221" y="5" width="3" height="1" fill="#555"/>
<rect x="220" y="15" width="14" height="1" fill="#555"/>
<rect x="232" y="14" width="1" height="3" fill="#555"/>
<rect x="228" y="5" width="1" height="9" fill="#009a00"/>
<rect x="228" y="6" width="3" height="1" fill="#009a00"/>
<rect x="226" y="12" width="3" height="1" fill="#009a00"/>
<rect x="250" y="4" width="1" height="14" fill="#555"/>
<rect x="249" y="5" width="3" height="1" fill="#555"/>
<rect x="248" y="15" width="14" height="1" fill="#555"/>
<rect x="260" y="14" width="1" height="3" fill="#555"/>
<rect x="256" y="2" width="1" height="12" fill="#009a00"/>
<rect x="254" y="4" width="5" height="8" fill="#009a00"/>
<rect x="255" y="5" width="3" height="6" fill="url(#cgreen)"/>
<rect x="278" y="4" width="1" height="14" fill="#555"/>
<rect x="277" y="5" width="3" height="1" fill="#555"/>
<rect x="276" y="15" width="14" height="1" fill="#555"/>
<rect x="288" y="14" width="1" height="3" fill="#555"/>
<rect x="402" y="4" width="1" height="14" fill="#555"/>
<rect x="401" y="5" width="3" height="1" fill="#555"/>
<rect x="400" y="15" width="14" height="1" fill="#555"/>
<rect x="412" y="14" width="1" height="3" fill="#555"/>
<rect x="430" y="4" width="1" height="14" fill="#555"/>
<rect x="429" y="5" width="3" height="1" fill="#555"/>
<rect x="428" y="15" width="14" height="1" fill="#555"/>
<rect x="440" y="14" width="1" height="3" fill="#555"/>
<rect x="436" y="4" width="1" height="10" fill="#1868a8"/>
<rect x="615" y="10" width="7" height="1" fill="#555"/>
<rect x="624" y="10" width="6" height="1" fill="#555"/>
<rect x="622" y="3" width="1" height="6" fill="#555"/>
<rect x="622" y="12" width="1" height="6" fill="#555"/>
<rect x="622" y="10" width="1" height="1" fill="#999"/>
<rect x="656" y="4" width="1" height="13" fill="#555"/>
<rect x="679" y="10" width="12" height="1" fill="#555"/>
<rect x="762" y="3" width="1" height="1" fill="#555"/>
<rect x="764" y="3" width="1" height="1" fill="#555"/>
<rect x="766" y="3" width="1" height="1" fill="#555"/>
<rect x="768" y="3" width="1" height="1" fill="#555"/>
<rect x="770" y="3" width="1" height="1" fill="#555"/>
<rect x="772" y="3" width="1" height="1" fill="#555"/>
<rect x="774" y="3" width="1" height="1" fill="#555"/>
<rect x="762" y="6" width="1" height="1" fill="#555"/>
<rect x="764" y="6" width="1" height="1" fill="#555"/>
<rect x="766" y="6" width="1" height="1" fill="#555"/>
<rect x="768" y="6" width="1" height="1" fill="#555"/>
<rect x="770" y="6" width="1" height="1" fill="#555"/>
<rect x="772" y="6" width="1" height="1" fill="#555"/>
<rect x="774" y="6" width="1" height="1" fill="#555"/>
<rect x="762" y="10" width="1" height="1" fill="#555"/>
<rect x="764" y="10" width="1" height="1" fill="#555"/>
<rect x="766" y="10" width="1" height="1" fill="#555"/>
<rect x="768" y="10" width="1" height="1" fill="#555"/>
<rect x="770" y="10" width="1" height="1" fill="#555"/>
<rect x="772" y="10" width="1" height="1" fill="#555"/>
<rect x="774" y="10" width="1" height="1" fill="#555"/>
<rect x="762" y="14" width="1" height="1" fill="#555"/>
<rect x="764" y="14" width="1" height="1" fill="#555"/>
<rect x="766" y="14" width="1" height="1" fill="#555"/>
<rect x="768" y="14" width="1" height="1" fill="#555"/>
<rect x="770" y="14" width="1" height="1" fill="#555"/>
<rect x="819" y="4" width="1" height="1" fill="#555"/>
<rect x="819" y="16" width="1" height="1" fill="#555"/>
<rect x="821" y="4" width="1" height="1" fill="#555"/>
<rect x="821" y="16" width="1" height="1" fill="#555"/>
<rect x="823" y="4" width="1" height="1" fill="#555"/>
<rect x="823" y="16" width="1" height="1" fill="#555"/>
<rect x="825" y="4" width="1" height="1" fill="#555"/>
<rect x="825" y="16" width="1" height="1" fill="#555"/>
<rect x="827" y="4" width="1" height="1" fill="#555"/>
<rect x="827" y="16" width="1" height="1" fill="#555"/>
<rect x="829" y="4" width="1" height="1" fill="#555"/>
<rect x="829" y="16" width="1" height="1" fill="#555"/>
<rect x="819" y="4" width="1" height="1" fill="#555"/>
<rect x="830" y="4" width="1" height="1" fill="#555"/>
<rect x="819" y="6" width="1" height="1" fill="#555"/>
<rect x="830" y="6" width="1" height="1" fill="#555"/>
<rect x="819" y="8" width="1" height="1" fill="#555"/>
<rect x="830" y="8" width="1" height="1" fill="#555"/>
<rect x="819" y="10" width="1" height="1" fill="#555"/>
<rect x="830" y="10" width="1" height="1" fill="#555"/>
<rect x="819" y="12" width="1" height="1" fill="#555"/>
<rect x="830" y="12" width="1" height="1" fill="#555"/>
<rect x="819" y="14" width="1" height="1" fill="#555"/>
<rect x="830" y="14" width="1" height="1" fill="#555"/>
<rect x="819" y="16" width="1" height="1" fill="#555"/>
<rect x="830" y="16" width="1" height="1" fill="#555"/>
<rect x="818" y="3" width="2" height="1" fill="#555"/>
<rect x="821" y="7" width="8" height="1" fill="#555"/>
<rect x="824" y="7" width="2" height="8" fill="#555"/>
<rect x="483" y="9" width="5" height="1" fill="#000"/>
<rect x="484" y="10" width="3" height="1" fill="#000"/>
<rect x="485" y="11" width="1" height="1" fill="#000"/>
<rect x="522" y="9" width="5" height="1" fill="#000"/>
<rect x="523" y="10" width="3" height="1" fill="#000"/>
<rect x="524" y="11" width="1" height="1" fill="#000"/>
<rect x="561" y="9" width="5" height="1" fill="#000"/>
<rect x="562" y="10" width="3" height="1" fill="#000"/>
<rect x="563" y="11" width="1" height="1" fill="#000"/>
<rect x="867" y="9" width="5" height="1" fill="#000"/>
<rect x="868" y="10" width="3" height="1" fill="#000"/>
<rect x="869" y="11" width="1" height="1" fill="#000"/>
</g>
<g shape-rendering="geometricPrecision" text-rendering="geometricPrecision">
<text transform="translate(-3.6 13.3) scale(1.06 0.96)" font-size="12" fill="#000" stroke="#000" stroke-width="0.2">新订单</text>
<text transform="translate(148.5 13.3) scale(1.03 0.96)" font-size="12" fill="#000" stroke="#000" stroke-width="0.2">自动交易</text>
<path d="M50.3 3 L60 9.5 L61.2 11.6 L53 17.8 L44.9 11.7 L49.4 6.6 Z" fill="#9a5c08"/>
<path d="M50.7 4.3 L59.3 10 L52.4 14.9 L46.6 10.9 L50.2 7 Z" fill="url(#gold)"/>
<path d="M46 11.7 L52.7 16.8 L53.5 15.6 L47 10.9 Z" fill="#f6dc70"/>
<path d="M53.7 16.3 L60.4 11.5 L59.9 10.7 L53.2 15.3 Z" fill="#ece0a8"/>
<path d="M75.1 2.6 L78.6 2.2 L82.4 2.2 L86 4.2 L86 10.8 L75.1 11.2 Z" fill="#1a9cfc"/>
<path d="M75.1 2.6 L78.6 5 L78.6 11.2 L75.1 11.2 Z" fill="#0a94f4"/>
<path d="M75.3 2.5 L82.4 2.2 L86 4.4 L78.6 5 Z" fill="#48b4ff"/>
<path d="M75.6 2.9 L78.6 5 L78.6 11" fill="none" stroke="#d8f0ff" stroke-width="0.6"/>
<rect x="80.2" y="6.4" width="4.8" height="1.5" fill="#e4f4ff"/>
<rect x="80.2" y="7.3" width="4.8" height="0.6" fill="#1070c8"/>
<path d="M76 17.6 C72.9 17.6 73 13.4 75.8 13.3 C75.8 11.5 78 10.9 79.2 12.1 C80.2 9.8 84.2 10 84.8 12.3 C86.4 11.2 88.6 12.4 88.2 14.4 C89 15.6 88.6 17.6 86.8 17.6 Z" fill="url(#cloud)" stroke="#3f5c9c" stroke-width="1.05"/>
<defs><linearGradient id="sweep" x1="0" y1="1" x2="0.3" y2="0"><stop offset="0" stop-color="#1aa01a" stop-opacity="0.95"/><stop offset="0.55" stop-color="#6cc070" stop-opacity="0.6"/><stop offset="1" stop-color="#b0d8b0" stop-opacity="0.25"/></linearGradient></defs>
<circle cx="109" cy="10" r="7.3" fill="none" stroke="#4a74d4" stroke-width="1.1" opacity="0.55"/>
<circle cx="109" cy="10" r="4.7" fill="none" stroke="#5a80d8" stroke-width="1.1" opacity="0.5"/>
<path d="M109 10 L109 17.8 A7.8 7.8 0 0 0 111.7 2.7 Z" fill="url(#sweep)"/>
<path d="M109.4 17.3 A7.3 7.3 0 0 0 115.6 6.8" fill="none" stroke="#3a8a5a" stroke-width="1.1" opacity="0.7"/>
<path d="M109.4 14.7 A4.7 4.7 0 0 0 112.6 7" fill="none" stroke="#5aa070" stroke-width="1" opacity="0.6"/>
<circle cx="109" cy="10" r="2" fill="#2a58d0"/>
<path d="M109.5 10.2 L109.5 17.7" fill="none" stroke="#18a018" stroke-width="1.4"/>
<path d="M128.2 9.4 L136 10.4 L143.9 8.2 L137 17.4 L135.2 17.6 Z" fill="url(#face)" stroke="#c89410" stroke-width="0.7"/>
<path d="M128.1 6.8 C128.6 5.4 130.6 6.6 132.2 6.6 C131.4 1 140.2 0.8 139.6 6.2 C141.2 6 143.2 4.4 144 5.4 C144.6 7.6 139.6 9.8 135.6 9.8 C132 9.8 127.6 8.6 128.1 6.8 Z" fill="url(#hat)" stroke="#2a86b0" stroke-width="0.7"/>
<path d="M132.2 6.6 C134 7.6 138 7.4 139.6 6.2" fill="none" stroke="#2a78a8" stroke-width="0.7"/>
<circle cx="140.4" cy="13.6" r="3.95" fill="#dc2000" stroke="#b41400" stroke-width="0.5"/>
<rect x="139.1" y="12.1" width="3" height="3" fill="#fff"/>
<path d="M277 13 C280 10.5 281.5 7 283.5 7.4 C285.5 7.8 286.5 10.6 289.5 11.2" fill="none" stroke="#1a9a1a" stroke-width="1.3"/>
<path d="M317.59999999999997 12.0 L322.59999999999997 16.8" stroke="#a67c0c" stroke-width="3.9"/>
<path d="M317.79999999999995 12.2 L322.2 16.4" stroke="#f2d432" stroke-width="2.1"/>
<circle cx="313.9" cy="7.9" r="5.5" fill="url(#lens)" stroke="#3a7cc6" stroke-width="1.15"/>
<rect x="310.4" y="7" width="7" height="1.9" fill="#3f86ac"/>
<rect x="312.95" y="4.4" width="1.9" height="7" fill="#3f86ac"/>
<path d="M345.59999999999997 12.0 L350.59999999999997 16.8" stroke="#a67c0c" stroke-width="3.9"/>
<path d="M345.79999999999995 12.2 L350.2 16.4" stroke="#f2d432" stroke-width="2.1"/>
<circle cx="341.9" cy="7.9" r="5.5" fill="url(#lens)" stroke="#3a7cc6" stroke-width="1.15"/>
<rect x="338.4" y="7" width="7" height="1.9" fill="#3f86ac"/>
<rect x="364.1" y="2.2" width="7.8" height="7.8" rx="0.9" fill="url(#tg)"/>
<rect x="365.1" y="5.0" width="5.7" height="4" fill="#fff"/>
<rect x="366.1" y="6.1" width="3.7" height="0.9" fill="#a8dc88"/>
<rect x="366.1" y="8.2" width="3.7" height="0.8" fill="url(#tg)"/>
<rect x="365.1" y="3.2" width="0.9" height="0.9" fill="#fff" opacity="0.9"/>
<rect x="372.1" y="2.2" width="7.8" height="7.8" rx="0.9" fill="url(#tb)"/>
<rect x="373.1" y="5.0" width="5.7" height="4" fill="#fff"/>
<rect x="374.1" y="6.1" width="3.7" height="0.9" fill="#88a8f0"/>
<rect x="374.1" y="8.2" width="3.7" height="0.8" fill="url(#tb)"/>
<rect x="373.1" y="3.2" width="0.9" height="0.9" fill="#fff" opacity="0.9"/>
<rect x="364.1" y="10.1" width="7.8" height="7.8" rx="0.9" fill="url(#tb)"/>
<rect x="365.1" y="12.899999999999999" width="5.7" height="4" fill="#fff"/>
<rect x="366.1" y="14.0" width="3.7" height="0.9" fill="#88a8f0"/>
<rect x="366.1" y="16.1" width="3.7" height="0.8" fill="url(#tb)"/>
<rect x="365.1" y="11.1" width="0.9" height="0.9" fill="#fff" opacity="0.9"/>
<rect x="372.1" y="10.1" width="7.8" height="7.8" rx="0.9" fill="url(#tg)"/>
<rect x="373.1" y="12.899999999999999" width="5.7" height="4" fill="#fff"/>
<rect x="374.1" y="14.0" width="3.7" height="0.9" fill="#a8dc88"/>
<rect x="374.1" y="16.1" width="3.7" height="0.8" fill="url(#tg)"/>
<rect x="373.1" y="11.1" width="0.9" height="0.9" fill="#fff" opacity="0.9"/>
<path d="M407.4 6.2 L411 9.5 L407.4 12.8 Z" fill="#58d858" stroke="#0a9a0a" stroke-width="0.9"/>
<path d="M437.4 9.5 L440.2 7.6 L440 9 L442 9 L442 10 L440 10 L440.2 11.4 Z" fill="#d04800" stroke="#d04800" stroke-width="0.4"/>
<path d="M461.5 3 C461.5 2.5 461.9 2.3 462.5 2.3 L469.4 2.3 L472.6 5.5 L472.6 14.8 C472.6 15.4 472.2 15.6 471.6 15.6 L462.5 15.6 C461.9 15.6 461.5 15.4 461.5 14.8 Z" fill="#fcfcfc" stroke="#808080" stroke-width="0.9"/>
<path d="M469.4 2.3 L469.4 5.5 L472.6 5.5" fill="#e4e4e4" stroke="#808080" stroke-width="0.7"/>
<path d="M466.4 5.2 C464.4 5.2 464.4 6 464.4 7 L464.4 12.4 M463.4 8.6 L466 8.6" fill="none" stroke="#6a5a3a" stroke-width="0.9"/>
<path d="M469.3 8.4 L473.1 8.4 L473.1 12.2 L476.8 12.2 L476.8 16 L473.1 16 L473.1 19.8 L469.3 19.8 L469.3 16 L465.6 16 L465.6 12.2 L469.3 12.2 Z" fill="url(#plus)" stroke="#0a8a0a" stroke-width="0.7"/>
<circle cx="507.1" cy="10.1" r="7.9" fill="url(#clock)"/>
<circle cx="507.1" cy="10.1" r="5" fill="#f8f8f8"/>
<path d="M506.6 6.4 L506.8 10.4 L509.6 10.6" fill="none" stroke="#222" stroke-width="1.2"/>
<circle cx="511.20" cy="10.10" r="0.35" fill="#999"/>
<circle cx="510.65" cy="12.15" r="0.35" fill="#999"/>
<circle cx="509.15" cy="13.65" r="0.35" fill="#999"/>
<circle cx="507.10" cy="14.20" r="0.35" fill="#999"/>
<circle cx="505.05" cy="13.65" r="0.35" fill="#999"/>
<circle cx="503.55" cy="12.15" r="0.35" fill="#999"/>
<circle cx="503.00" cy="10.10" r="0.35" fill="#999"/>
<circle cx="503.55" cy="8.05" r="0.35" fill="#999"/>
<circle cx="505.05" cy="6.55" r="0.35" fill="#999"/>
<circle cx="507.10" cy="6.00" r="0.35" fill="#999"/>
<circle cx="509.15" cy="6.55" r="0.35" fill="#999"/>
<circle cx="510.65" cy="8.05" r="0.35" fill="#999"/>
<rect x="538.3" y="3" width="15.7" height="13.9" rx="0.8" fill="#3272c0"/>
<rect x="538.9" y="3.5" width="14.5" height="2" fill="#5c9ce4"/>
<rect x="539.6" y="4" width="5" height="0.8" fill="#c8e0ff"/>
<rect x="539.3" y="6" width="13.7" height="4.9" fill="#fff"/>
<rect x="539.3" y="11.7" width="13.7" height="4.1" fill="#fff"/>
<path d="M540.4 9.6 L542 9.6 L543.6 8 L544.8 8 L546 7.2 L547.4 8.4 L549 8.4 L550.4 7.4 L552 7.4" fill="none" stroke="#9a2a10" stroke-width="1.1"/>
<path d="M541.2 14.8 L542.6 14.2 L544.2 13.6 L545.6 14.6 L547 14.4 L548.8 12.4 L550.2 13.4 L551.6 14.8" fill="none" stroke="#1a9a2a" stroke-width="1.1"/>
<path d="M590 2.8 L590 14.2 L592.8 11.8 L595 17 L596.8 16.2 L594.6 11.2 L598.2 10.6 Z" fill="#444"/>
<path d="M706.6 17 L719.2 4.8" stroke="#555" stroke-width="0.95"/>
<path d="M732.8 11.6 L740.7 4 M738 16.9 L747 8.2" stroke="#666" stroke-width="0.8"/>
<path d="M735.4 9.3 L735.4 16.9 M738.6 8.2 L738.6 13.7 M741.6 6.1 L741.6 13.2 M744.7 2 L744.7 9.3" stroke="#3a3a3a" stroke-width="1.1"/>
<path d="M733.8 15.4 L735.4 14.6 M735.4 12.6 L738.6 11.6 M738.6 10.4 L741.6 9 M741.6 8 L744.7 6.6 M744.7 4.6 L746.4 4.2 M735.4 13.6 L736.6 13.2 M738.6 13 L739.8 12.4 M741.6 12.4 L742.8 11.8 M744.7 8.6 L746.2 8" stroke="#3a3a3a" stroke-width="0.9"/>
<text x="743.8" y="18.9" font-size="6.8" font-weight="bold" fill="#333">E</text>
<text x="771.6" y="18.9" font-size="6.8" font-weight="bold" fill="#333">F</text>
<text transform="translate(792.6 15.05) scale(0.86 1)" font-size="13" fill="#555" stroke="#555" stroke-width="0.45">A</text>
<path d="M849.4 4 L853.1 7.5 L851.3 7.7 L851 8.7 L847.9 8.7 L847.6 7.7 L845.8 7.5 Z" fill="#4a4a4a"/>
<path d="M856.4 17 L860.1 13.4 L858.2 13.2 L857.9 12.2 L855 12.2 L854.7 13.2 L852.9 13.4 Z" fill="#4a4a4a"/>
<path d="M848.2 11.8 L850.4 13.4 L854.8 8.6" fill="none" stroke="#444" stroke-width="1.3"/>
<text x="893.4" y="13.9" font-size="9.4" fill="#222" stroke="#222" stroke-width="0.12">M1</text>
<text x="921.4" y="13.9" font-size="9.4" fill="#222" stroke="#222" stroke-width="0.12">M5</text>
<text x="947.4" y="13.9" font-size="9.4" fill="#222" stroke="#222" stroke-width="0.12">M15</text>
<text x="975.4" y="13.9" font-size="9.4" fill="#222" stroke="#222" stroke-width="0.12">M30</text>
<text x="1006.2" y="13.9" font-size="9.4" fill="#222" stroke="#222" stroke-width="0.12">H1</text>
<text x="1033.6" y="13.9" font-size="9.4" fill="#222" stroke="#222" stroke-width="0.12">H4</text>
<text x="1062.2" y="13.9" font-size="9.4" fill="#222" stroke="#222" stroke-width="0.12">D1</text>
<text x="1090" y="13.9" font-size="9.4" fill="#222" stroke="#222" stroke-width="0.12">W1</text>
<text x="1116.2" y="13.9" font-size="9.4" fill="#222" stroke="#222" stroke-width="0.12">MN</text>
<path d="M1606.3 10.7 L1602 14.8" stroke="#1a58d8" stroke-width="2.6" stroke-linecap="round"/>
<circle cx="1609.6" cy="7.5" r="3.6" fill="#fafaff" stroke="#2060e0" stroke-width="1.2"/>
<path d="M1629.6 18.6 L1630.4 16.4 C1624.4 15.4 1624.8 7.6 1631.6 7.6 C1638.6 7.6 1638.8 16.2 1632.6 16.6 Z" fill="url(#bub)" stroke="#a8a8a8" stroke-width="0.8"/>
<circle cx="1640.3" cy="7.5" r="8.2" fill="url(#redb)"/>
<text x="1636" y="11.8" font-size="13.6" font-weight="bold" fill="#fff" style="font-family:'Liberation Serif',serif">1</text>
</g>
</svg>
</body></html>
